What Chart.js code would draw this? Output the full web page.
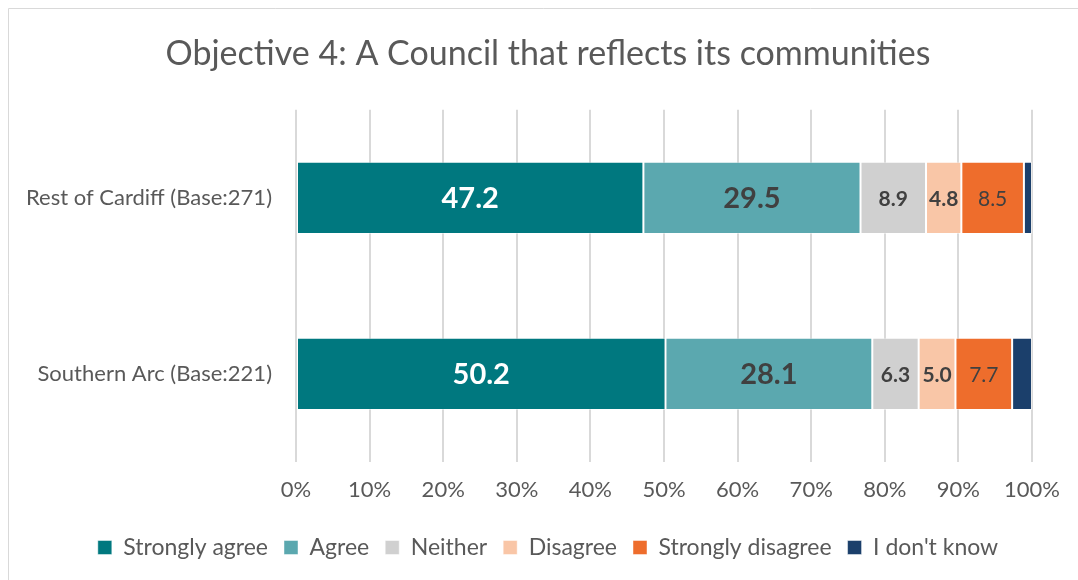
<!DOCTYPE html>
<html>
<head>
<meta charset="utf-8">
<script src="https://cdn.jsdelivr.net/npm/chart.js@4.4.1/dist/chart.umd.min.js"></script>
<style>
  html, body { margin: 0; padding: 0; background: #fff; }
  canvas { display: block; }
</style>
</head>
<body>
<canvas id="myChart" width="1078" height="580"></canvas>
<script>
// categories down the y-axis
var areas = ['Rest of Cardiff (Base:271)', 'Southern Arc (Base:221)'];
// one series per answer
var stronglyAgree = [47.2, 50.2];
var agree = [29.5, 28.1];
var neither = [8.9, 6.3];
var disagree = [4.8, 5.0];
var stronglyDisagree = [8.5, 7.7];
var dontKnow = [1.1, 2.7];
var answers = ['Strongly agree', 'Agree', 'Neither', 'Disagree', 'Strongly disagree', "I don't know"];
var xTicks = [0, 10, 20, 30, 40, 50, 60, 70, 80, 90, 100];

var FONT = 'Lato, "Open Sans", sans-serif';
var grey = '#595959';

// label styles for the values inside the bars (null = no label)
var labelStyle = [
  { color: '#ffffff', font: 'bold 29px ' + FONT },
  { color: '#404040', font: 'bold 29px ' + FONT },
  { color: '#404040', font: 'bold 21px ' + FONT },
  { color: '#404040', font: 'bold 21px ' + FONT },
  { color: '#404040', font: '21px ' + FONT },
  null
];

var valueLabels = {
  id: 'valueLabels',
  afterDatasetsDraw: function(chart) {
    var ctx = chart.ctx;
    chart.data.datasets.forEach(function(ds, i) {
      var st = labelStyle[i];
      if (!st) return;
      var meta = chart.getDatasetMeta(i);
      meta.data.forEach(function(bar, j) {
        ctx.save();
        ctx.fillStyle = st.color;
        ctx.font = st.font;
        ctx.textAlign = 'center';
        ctx.textBaseline = 'middle';
        ctx.fillText(ds.data[j].toFixed(1), (bar.x + bar.base) / 2, bar.y + 1);
        ctx.restore();
      });
    });
  }
};

// light frame round the chart, like the original export
var frame = {
  id: 'frame',
  beforeDraw: function(chart) {
    var ctx = chart.ctx;
    ctx.save();
    ctx.strokeStyle = '#d9d9d9';
    ctx.lineWidth = 1;
    ctx.beginPath();
    ctx.moveTo(8.5, 1000);
    ctx.lineTo(8.5, 8.5);
    ctx.lineTo(1078, 8.5);
    ctx.stroke();
    ctx.restore();
  },
  // long category names run into the left padding, so don't clip them
  afterLayout: function(chart) {
    chart.scales.y.left = 0;
  }
};

var colors = ['#00787F', '#5BA8AF', '#D0D0D0', '#F9C6A7', '#EE6D2C', '#1B3F6B'];
var series = [stronglyAgree, agree, neither, disagree, stronglyDisagree, dontKnow];

var ctx = document.getElementById('myChart');
var myChart = new Chart(ctx, {
  type: 'bar',
  data: {
    labels: areas,
    datasets: series.map(function(d, i) {
      return {
        label: answers[i],
        data: d,
        backgroundColor: colors[i],
        borderColor: 'rgba(255,255,255,0.45)',
        borderWidth: 1,
        borderSkipped: false,
        barPercentage: 0.41,
        categoryPercentage: 1
      };
    })
  },
  options: {
    indexAxis: 'y',
    responsive: false,
    animation: false,
    devicePixelRatio: 1,
    layout: { padding: { left: 64, right: 46, top: 0, bottom: 11 } },
    scales: {
      x: {
        stacked: true,
        min: 0,
        max: 100,
        afterBuildTicks: function(scale) {
          scale.ticks = xTicks.map(function(v) { return { value: v }; });
        },
        afterFit: function(scale) { scale.height = 58; },
        grid: { color: '#d9d9d9', lineWidth: 2, drawTicks: false },
        border: { display: false },
        ticks: {
          padding: 15,
          color: grey,
          font: { family: FONT, size: 22 },
          callback: function(v) { return v + '%'; }
        }
      },
      y: {
        stacked: true,
        afterFit: function(scale) { scale.width = 232; },
        grid: { display: false },
        border: { display: false },
        ticks: {
          padding: 16,
          color: grey,
          font: { family: FONT, size: 22 }
        }
      }
    },
    plugins: {
      title: {
        display: true,
        text: 'Objective 4: A Council that reflects its communities',
        color: grey,
        font: { family: FONT, size: 34, weight: 'normal' },
        padding: { top: 34, bottom: 35 }
      },
      legend: {
        position: 'bottom',
        labels: {
          color: grey,
          boxWidth: 14,
          boxHeight: 14,
          padding: 16,
          font: { family: FONT, size: 23 }
        }
      },
      tooltip: { enabled: false }
    }
  },
  plugins: [frame, valueLabels]
});
</script>
</body>
</html>
